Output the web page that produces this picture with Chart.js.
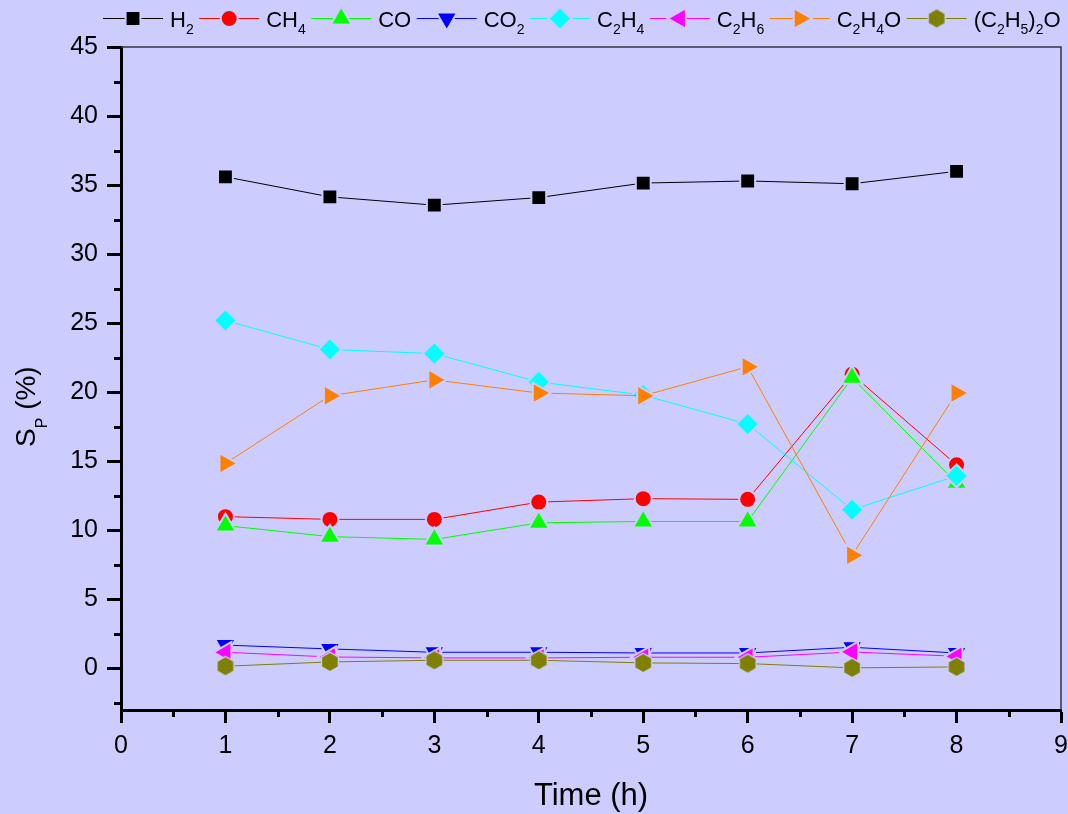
<!DOCTYPE html>
<html lang="en">
<head>
<meta charset="UTF-8">
<title>Selectivity vs time</title>
<script src="https://cdn.jsdelivr.net/npm/chart.js@4.4.1/dist/chart.umd.min.js"></script>
<style>
    html, body {
        margin: 0;
        padding: 0;
        background-color: #CCCCFF;
    }
    #wrap {
        width: 1068px;
        height: 814px;
    }
</style>
</head>
<body>
<div id="wrap">
    <canvas id="chart" width="1068" height="814"></canvas>
</div>
<script>
    // time (h)
    const hours = [1, 2, 3, 4, 5, 6, 7, 8];

    // selectivity S_P (%)
    const h2 = [35.6, 34.15, 33.55, 34.1, 35.15, 35.3, 35.1, 36.0];
    const ch4 = [11.0, 10.8, 10.8, 12.05, 12.3, 12.25, 21.3, 14.75];
    const co = [10.35, 9.55, 9.35, 10.55, 10.65, 10.65, 21.05, 13.45];
    const co2 = [1.7, 1.42, 1.18, 1.18, 1.13, 1.13, 1.54, 1.13];
    const c2h4 = [25.2, 23.1, 22.8, 20.75, 19.8, 17.7, 11.5, 13.95];
    const c2h6 = [1.18, 0.84, 0.77, 0.77, 0.82, 0.82, 1.2, 0.89];
    const c2h4o = [14.85, 19.75, 20.9, 19.95, 19.75, 21.85, 8.2, 19.95];
    const et2o = [0.17, 0.48, 0.6, 0.6, 0.41, 0.36, 0.05, 0.12];

    // "_" marks the next character as subscript
    const seriesNames = ['H_2', 'CH_4', 'CO', 'CO_2', 'C_2H_4', 'C_2H_6', 'C_2H_4O', '(C_2H_5)_2O'];
    const seriesColors = ['#000000', '#FF0000', '#00FF00', '#0000FF', '#00FFFF', '#FF00FF', '#FF8000', '#808000'];

    const xTicks = [0, 1, 2, 3, 4, 5, 6, 7, 8, 9];
    const yTicks = [0, 5, 10, 15, 20, 25, 30, 35, 40, 45];

    const BG = '#CCCCFF';
    const FONT = "'Liberation Sans', Arial, Helvetica, sans-serif";
    const PLOT_RIGHT = 1061;

    // hexagon marker, Chart.js has none
    function hexagon(color) {
        const c = document.createElement('canvas');
        c.width = 22;
        c.height = 22;
        const g = c.getContext('2d');
        function hex(r, fill) {
            g.beginPath();
            for (let k = 0; k < 6; k++) {
                const a = Math.PI / 3 * k;
                const px = 11 + Math.sin(a) * r;
                const py = 11 - Math.cos(a) * r;
                if (k === 0) g.moveTo(px, py); else g.lineTo(px, py);
            }
            g.closePath();
            g.fillStyle = fill;
            g.fill();
        }
        hex(10.5, BG);
        hex(9, color);
        return c;
    }

    const markers = [
        { style: 'rect', radius: 10.5, rotation: 0 },
        { style: 'circle', radius: 8.5, rotation: 0 },
        { style: 'triangle', radius: 12, rotation: 0 },
        { style: 'triangle', radius: 12, rotation: 180 },
        { style: 'rectRot', radius: 11.5, rotation: 0 },
        { style: 'triangle', radius: 12, rotation: 270 },
        { style: 'triangle', radius: 12, rotation: 90 },
        { style: hexagon('#808000'), radius: 9, rotation: 0 }
    ];

    const values = [h2, ch4, co, co2, c2h4, c2h6, c2h4o, et2o];

    const datasets = values.map((vals, i) => ({
        label: seriesNames[i],
        data: hours.map((h, j) => ({ x: h, y: vals[j] })),
        borderColor: seriesColors[i],
        backgroundColor: seriesColors[i],
        borderWidth: 1,
        pointStyle: markers[i].style,
        pointRadius: markers[i].radius,
        pointRotation: markers[i].rotation,
        pointBorderColor: BG,
        pointBorderWidth: 2,
        order: values.length - 1 - i
    }));

    // draw text with "_" subscripts, returns width
    function richText(ctx, text, x, y, size, subSize, subDrop) {
        let cx = x;
        for (let k = 0; k < text.length; k++) {
            let ch = text[k];
            let sub = false;
            if (ch === '_') {
                k++;
                ch = text[k];
                sub = true;
            }
            ctx.font = (sub ? subSize : size) + 'px ' + FONT;
            ctx.fillText(ch, cx, sub ? y + subDrop : y);
            cx += ctx.measureText(ch).width;
        }
        return cx - x;
    }

    const decorations = {
        id: 'decorations',
        afterLayout(chart) {
            // stretch the plot to the right edge like the original
            const area = chart.chartArea;
            const xs = chart.scales.x;
            const diff = PLOT_RIGHT - area.right;
            area.right += diff;
            area.width += diff;
            xs.right += diff;
            xs.width += diff;
            xs.configure();
        },
        beforeDraw(chart) {
            const ctx = chart.ctx;
            ctx.save();
            ctx.fillStyle = BG;
            ctx.fillRect(0, 0, chart.width, chart.height);
            ctx.restore();
        },
        afterDraw(chart) {
            const ctx = chart.ctx;
            const area = chart.chartArea;
            const xs = chart.scales.x;
            const ys = chart.scales.y;
            ctx.save();

            // top and right frame
            ctx.strokeStyle = '#333344';
            ctx.lineWidth = 1.5;
            ctx.beginPath();
            ctx.moveTo(area.left, area.top);
            ctx.lineTo(area.right, area.top);
            ctx.lineTo(area.right, area.bottom);
            ctx.stroke();

            // minor ticks
            ctx.strokeStyle = '#000';
            ctx.lineWidth = 3;
            ctx.beginPath();
            for (let v = -2.5; v < 45; v += 5) {
                const py = Math.round(ys.getPixelForValue(v)) + 0.5;
                ctx.moveTo(area.left - 7, py);
                ctx.lineTo(area.left, py);
            }
            for (let v = 0.5; v < 9; v += 1) {
                const px = Math.round(xs.getPixelForValue(v)) + 0.5;
                ctx.moveTo(px, area.bottom);
                ctx.lineTo(px, area.bottom + 7);
            }
            ctx.stroke();

            // legend
            ctx.textBaseline = 'alphabetic';
            ctx.fillStyle = '#000';
            let lx = 103;
            chart.data.datasets.forEach((ds, i) => {
                ctx.strokeStyle = ds.borderColor;
                ctx.lineWidth = 1;
                ctx.beginPath();
                ctx.moveTo(lx, 18.5);
                ctx.lineTo(lx + 60, 18.5);
                ctx.stroke();
                ctx.fillStyle = ds.backgroundColor;
                ctx.strokeStyle = BG;
                ctx.lineWidth = 2;
                Chart.helpers.drawPoint(ctx, {
                    pointStyle: ds.pointStyle,
                    radius: ds.pointRadius,
                    rotation: ds.pointRotation,
                    borderWidth: 2
                }, lx + 30, 18.5);
                ctx.fillStyle = '#000';
                const w = richText(ctx, ds.label, lx + 67, 27, 22, 14, 7);
                lx += 67 + w + 5.5;
            });

            // axis titles
            ctx.fillStyle = '#000';
            ctx.font = '31px ' + FONT;
            ctx.textAlign = 'center';
            ctx.fillText('Time (h)', (area.left + area.right) / 2, 805);
            ctx.textAlign = 'left';

            ctx.translate(35, 447);
            ctx.rotate(-Math.PI / 2);
            richText(ctx, 'S_P (%)', 0, 0, 28, 16, 12);
            ctx.restore();
        }
    };

    new Chart(document.getElementById('chart'), {
        type: 'line',
        data: { datasets },
        options: {
            responsive: false,
            animation: false,
            events: [],
            layout: { padding: { top: 47, right: 7, left: 0, bottom: 0 } },
            plugins: {
                legend: { display: false },
                tooltip: { enabled: false }
            },
            scales: {
                x: {
                    type: 'linear',
                    min: 0,
                    max: 9,
                    afterBuildTicks: s => { s.ticks = xTicks.map(v => ({ value: v })); },
                    afterFit: s => { s.height = 104; },
                    grid: { drawOnChartArea: false, tickLength: 13, tickWidth: 3, tickColor: '#000' },
                    border: { color: '#000', width: 3 },
                    ticks: { color: '#000', padding: 8, maxRotation: 0, font: { family: FONT, size: 25 } }
                },
                y: {
                    type: 'linear',
                    min: -3,
                    max: 45,
                    afterBuildTicks: s => { s.ticks = yTicks.map(v => ({ value: v })); },
                    afterFit: s => { s.width = 121; },
                    grid: { drawOnChartArea: false, tickLength: 14, tickWidth: 3, tickColor: '#000' },
                    border: { color: '#000', width: 3 },
                    ticks: { color: '#000', padding: 9, font: { family: FONT, size: 25 } }
                }
            }
        },
        plugins: [decorations]
    });
</script>
</body>
</html>
